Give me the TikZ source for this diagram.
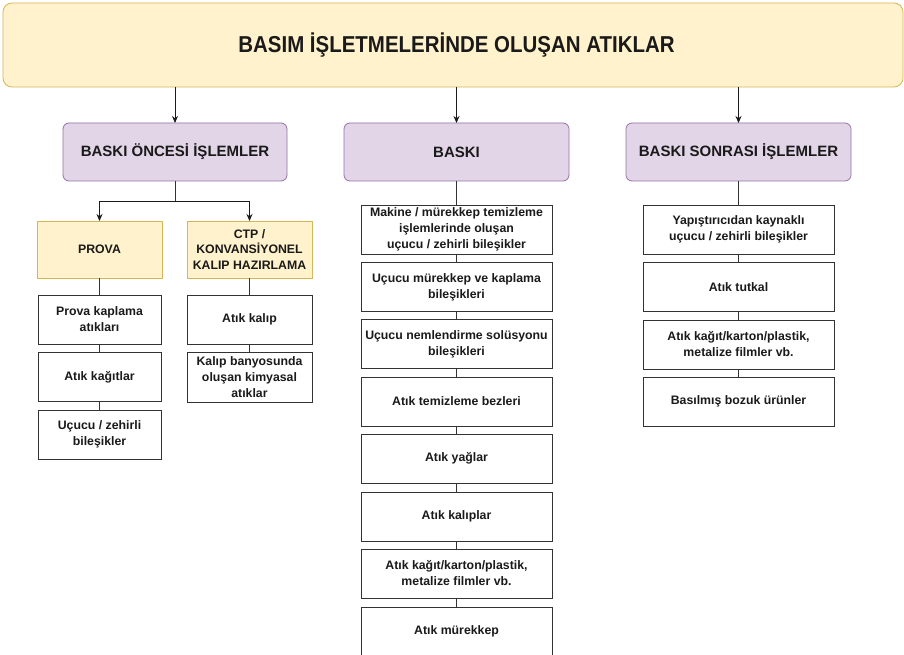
\documentclass[tikz,border=0pt]{standalone}
\usepackage{fontspec}
\setmainfont{Liberation Sans}
\usetikzlibrary{arrows.meta}
\definecolor{ylwfill}{HTML}{FFF2CC}
\definecolor{ylwdraw}{HTML}{D6B656}
\definecolor{prpfill}{HTML}{E1D5E7}
\definecolor{prpdraw}{HTML}{9673A6}
\definecolor{ink}{HTML}{1A1A1A}
\definecolor{edge}{HTML}{333333}
\begin{document}
\begin{tikzpicture}[x=1pt,y=-1pt,
  every node/.style={inner sep=0pt, outer sep=0pt, text=ink},
  titlebox/.style={draw=ylwdraw, fill=ylwfill, rounded corners=9pt, line width=0.8pt,
     minimum width=900pt, minimum height=84pt},
  phasebox/.style={draw=prpdraw, fill=prpfill, rounded corners=6pt, line width=0.8pt,
     minimum width=224pt, minimum height=58pt, font=\bfseries\fontsize{15}{18}\selectfont},
  subbox/.style={draw=ylwdraw, fill=ylwfill, line width=0.8pt,
     minimum width=125pt, minimum height=57pt, align=center, font=\bfseries\fontsize{12.3}{15.5}\selectfont},
  wastebox/.style={draw=edge, fill=white, line width=0.9pt,
     minimum height=49pt, align=center, font=\bfseries\fontsize{12.3}{16}\selectfont},
  arr/.style={draw=ink, line width=0.8pt, -{Stealth[length=7pt,width=6pt]}},
  link/.style={draw=edge, line width=0.8pt}
]
\useasboundingbox (0,0) rectangle (904,655);
\fill[white] (0,0) rectangle (904,655);

% title
\node[titlebox] (top) at (453,45) {};
\node[font=\bfseries\fontsize{23}{26}\selectfont] (toptxt) at (456.5,45) {\scalebox{0.89}[1]{BASIM İŞLETMELERİNDE OLUŞAN ATIKLAR}};

% phases
\node[phasebox] (pre) at (175,152) {BASKI ÖNCESİ İŞLEMLER};
\node[phasebox, minimum width=225pt] (print) at (456.5,152) {BASKI};
\node[phasebox, minimum width=225pt] (post) at (738.5,152) {BASKI SONRASI İŞLEMLER};

\draw[arr] (top.south -| pre.north) -- (pre.north);
\draw[arr] (top.south -| print.north) -- (print.north);
\draw[arr] (top.south -| post.north) -- (post.north);

% pre-press sub boxes
\node[subbox] (prova) at (99.5,249.5) {PROVA};
\node[subbox] (ctp) at (249.5,249.5) {CTP /\\KONVANSİYONEL\\KALIP HAZIRLAMA};
\coordinate (split) at (175,201);
\draw[link] (pre.south) -- (split);
\draw[arr] (split) -| (prova.north);
\draw[arr] (split) -| (ctp.north);

% PROVA column
\node[wastebox, minimum width=123pt] (p1) at (99.5,319.5) {Prova kaplama\\atıkları};
\node[wastebox, minimum width=123pt] (p2) at (99.5,377) {Atık kağıtlar};
\node[wastebox, minimum width=123pt] (p3) at (99.5,434.5) {Uçucu / zehirli\\bileşikler};
\draw[link] (prova.south) -- (p1.north);
\draw[link] (p1.south) -- (p2.north);
\draw[link] (p2.south) -- (p3.north);

% CTP column
\node[wastebox, minimum width=125pt] (c1) at (249.5,319.5) {Atık kalıp};
\node[wastebox, minimum width=125pt, minimum height=50pt] (c2) at (249.5,377) {Kalıp banyosunda\\oluşan kimyasal\\atıklar};
\draw[link] (ctp.south) -- (c1.north);
\draw[link] (c1.south) -- (c2.north);

% BASKI column
\node[wastebox, minimum width=191pt] (b1) at (456.5,229.5) {Makine / mürekkep temizleme\\işlemlerinde oluşan\\uçucu / zehirli bileşikler};
\node[wastebox, minimum width=191pt] (b2) at (456.5,287) {Uçucu mürekkep ve kaplama\\bileşikleri};
\node[wastebox, minimum width=191pt] (b3) at (456.5,344) {Uçucu nemlendirme solüsyonu\\bileşikleri};
\node[wastebox, minimum width=191pt] (b4) at (456.5,401.5) {Atık temizleme bezleri};
\node[wastebox, minimum width=191pt] (b5) at (456.5,458.5) {Atık yağlar};
\node[wastebox, minimum width=191pt] (b6) at (456.5,516.5) {Atık kalıplar};
\node[wastebox, minimum width=191pt] (b7) at (456.5,573.5) {Atık kağıt/karton/plastik,\\metalize filmler vb.};
\node[wastebox, minimum width=191pt] (b8) at (456.5,631.5) {Atık mürekkep};
\draw[link] (print.south) -- (b1.north);
\foreach \a/\b in {b1/b2,b2/b3,b3/b4,b4/b5,b5/b6,b6/b7,b7/b8}
  \draw[link] (\a.south) -- (\b.north);

% BASKI SONRASI column
\node[wastebox, minimum width=191pt] (s1) at (738.5,229.5) {Yapıştırıcıdan kaynaklı\\uçucu / zehirli bileşikler};
\node[wastebox, minimum width=191pt] (s2) at (738.5,287) {Atık tutkal};
\node[wastebox, minimum width=191pt] (s3) at (738.5,344.5) {Atık kağıt/karton/plastik,\\metalize filmler vb.};
\node[wastebox, minimum width=191pt] (s4) at (738.5,401.5) {Basılmış bozuk ürünler};
\draw[link] (post.south) -- (s1.north);
\draw[link] (s1.south) -- (s2.north);
\draw[link] (s2.south) -- (s3.north);
\draw[link] (s3.south) -- (s4.north);
\end{tikzpicture}
\end{document}
